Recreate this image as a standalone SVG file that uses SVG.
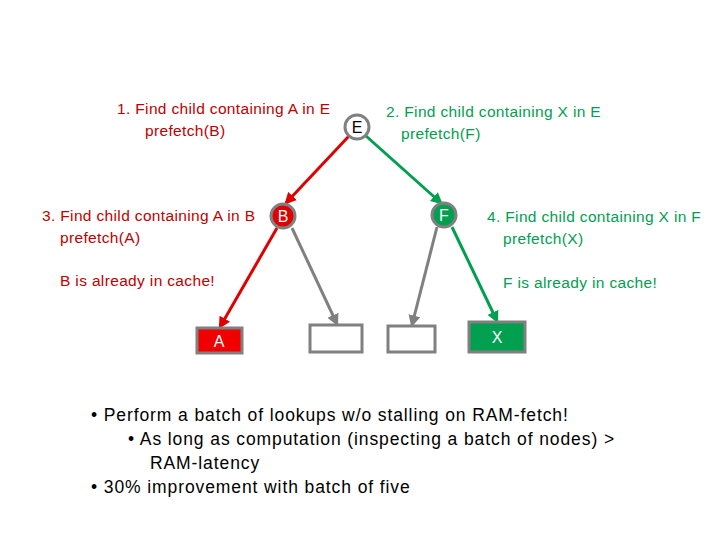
<svg xmlns="http://www.w3.org/2000/svg" width="720" height="540" viewBox="0 0 720 540">
<style>
text{font-family:"Liberation Sans",Arial,sans-serif;font-size:15.5px;letter-spacing:0.35px}
.r{fill:#c00000}.g{fill:#00a050}
.b{font-size:17.5px;letter-spacing:0.9px;fill:#000}
.n{stroke:#808080;stroke-width:3}
.lab{fill:#fff;font-size:16px;text-anchor:middle;letter-spacing:0}
</style>
<defs>
<marker id="ar" viewBox="0 0 10 10" refX="8" refY="5" markerWidth="4" markerHeight="4" orient="auto"><path d="M0,0L10,5L0,10z" fill="#e00000"/></marker>
<marker id="ag" viewBox="0 0 10 10" refX="8" refY="5" markerWidth="4" markerHeight="4" orient="auto"><path d="M0,0L10,5L0,10z" fill="#00a050"/></marker>
<marker id="ay" viewBox="0 0 10 10" refX="8" refY="5" markerWidth="4" markerHeight="4" orient="auto"><path d="M0,0L10,5L0,10z" fill="#808080"/></marker>
</defs>
<g id="connectors" stroke-width="3" fill="none">
<line x1="349" y1="136" x2="286" y2="203" stroke="#e00000" marker-end="url(#ar)"/>
<line x1="366" y1="136" x2="441" y2="203" stroke="#00a050" marker-end="url(#ag)"/>
<line x1="277" y1="228" x2="220" y2="327" stroke="#e00000" marker-end="url(#ar)"/>
<line x1="292" y1="228" x2="337" y2="324" stroke="#808080" marker-end="url(#ay)"/>
<line x1="437" y1="227" x2="412" y2="325" stroke="#808080" marker-end="url(#ay)"/>
<line x1="452" y1="227" x2="497" y2="321" stroke="#00a050" marker-end="url(#ag)"/>
</g>
<g id="E"><circle cx="357" cy="127" r="12" fill="#fff" class="n"/><text x="357" y="133" class="lab" style="fill:#000">E</text></g>
<g id="B"><circle cx="283" cy="216" r="12" fill="#e00000" class="n"/><text x="283" y="222" class="lab">B</text></g>
<g id="F"><circle cx="444" cy="215" r="12" fill="#00a050" class="n"/><text x="444" y="221" class="lab">F</text></g>
<g id="A"><rect x="197" y="328" width="45" height="25" fill="#f00000" class="n"/><text x="219" y="347" class="lab">A</text></g>
<g id="L1"><rect x="310" y="325" width="52" height="27" fill="#fff" class="n"/></g>
<g id="L2"><rect x="388" y="326" width="47" height="26" fill="#fff" class="n"/></g>
<g id="X"><rect x="469" y="322" width="56" height="30" fill="#00a050" class="n"/><text x="497" y="343" class="lab">X</text></g>
<g id="texts">
<text x="117" y="114" class="r">1.  Find child containing A in E</text>
<text x="145" y="136" class="r">prefetch(B)</text>
<text x="386" y="117" class="g">2. Find child containing X in E</text>
<text x="401" y="139" class="g">prefetch(F)</text>
<text x="42" y="221" class="r">3. Find child containing A in B</text>
<text x="60" y="243" class="r">prefetch(A)</text>
<text x="60" y="286" class="r">B is already in cache!</text>
<text x="487" y="222" class="g">4. Find child containing X in F</text>
<text x="503" y="244" class="g">prefetch(X)</text>
<text x="503" y="288" class="g">F is already in cache!</text>
<text x="91" y="421" class="b">•  Perform a batch of lookups w/o stalling on RAM-fetch!</text>
<text x="128" y="445" class="b">•  As long as computation (inspecting a batch of nodes) &gt;</text>
<text x="150" y="469" class="b">RAM-latency</text>
<text x="91" y="493" class="b">•  30% improvement with batch of five</text>
</g>
</svg>
